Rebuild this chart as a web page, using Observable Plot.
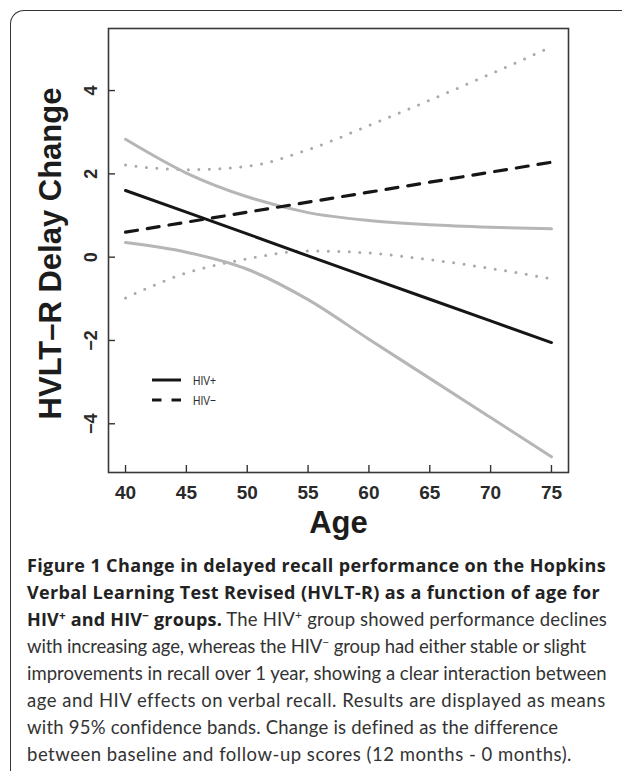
<!DOCTYPE html>
<html><head><meta charset="utf-8">
<script src="https://cdn.jsdelivr.net/npm/d3@7"></script>
<script src="https://cdn.jsdelivr.net/npm/@observablehq/plot@0.6"></script>
<style>
html,body{margin:0;padding:0;background:#fff;width:622px;height:771px;overflow:hidden;}
#wrap{position:relative;width:622px;height:771px;overflow:hidden;}
#border{position:absolute;left:10px;top:10px;width:700px;height:900px;border-top:1.8px solid #333;border-left:1.8px solid #333;border-top-left-radius:14px;box-sizing:border-box;}
#chart{position:absolute;left:0;top:0;}
#legend{position:absolute;left:0;top:0;}
#caption{position:absolute;left:27px;top:552px;font-family:Lato,'Open Sans',sans-serif;font-size:18.5px;line-height:27px;color:#333;white-space:nowrap;}
#caption b{color:#222;font-family:'Open Sans',Lato,sans-serif;font-weight:700;font-size:18px;}
#caption sup{font-size:0.65em;line-height:0;vertical-align:0.55em;}
#caption span{display:inline-block;}
</style></head>
<body><div id="wrap"><div id="border"></div><div id="chart"></div><svg id="legend" width="622" height="560"></svg><div id="caption"></div></div>
<script>
// ---- data ----
const ages = [40, 45, 50, 55, 60, 65, 70, 75];
const hivPosMean  = [1.60, 1.08, 0.56, 0.03, -0.49, -1.01, -1.53, -2.05];
const hivPosUpper = [2.83, 2.02, 1.45, 1.07, 0.88, 0.78, 0.72, 0.68];
const hivPosLower = [0.35, 0.12, -0.29, -1.02, -1.97, -2.91, -3.85, -4.79];
const hivNegMean  = [0.60, 0.84, 1.08, 1.32, 1.56, 1.80, 2.04, 2.28];
const hivNegUpper = [2.21, 2.10, 2.18, 2.58, 3.16, 3.77, 4.40, 5.05];
const hivNegLower = [-0.98, -0.38, -0.04, 0.15, 0.10, -0.06, -0.27, -0.52];
const xTicks = [40, 45, 50, 55, 60, 65, 70, 75];
const yTicks = [-4, -2, 0, 2, 4];
const legendLabels = ["HIV+", "HIV\u2212"];
const xTitle = "Age";
const yTitle = "HVLT\u2013R Delay Change";

const rows = arr => ages.map((a, i) => ({age: a, v: arr[i]}));

const gray = "#b6b6b6", dotGray = "#a9a9a9", ink = "#161616";

const plot = Plot.plot({
  width: 622, height: 550,
  marginLeft: 108, marginRight: 54, marginTop: 28, marginBottom: 78,
  x: {domain: [38.6, 76.4]},
  y: {domain: [-5.17, 5.49]},
  style: {fontFamily: "'Liberation Sans', Arial, sans-serif", color: "#2a2a2a", background: "transparent"},
  marks: [
    Plot.line(rows(hivNegUpper), {x: "age", y: "v", stroke: dotGray, strokeWidth: 3, strokeDasharray: "0,10.5", strokeLinecap: "round", curve: "monotone-x"}),
    Plot.line(rows(hivNegLower), {x: "age", y: "v", stroke: dotGray, strokeWidth: 3, strokeDasharray: "0,10.5", strokeLinecap: "round", curve: "monotone-x"}),
    Plot.line(rows(hivPosUpper), {x: "age", y: "v", stroke: gray, strokeWidth: 3, curve: "monotone-x"}),
    Plot.line(rows(hivPosLower), {x: "age", y: "v", stroke: gray, strokeWidth: 3, curve: "monotone-x"}),
    Plot.line(rows(hivNegMean), {x: "age", y: "v", stroke: ink, strokeWidth: 3.2, strokeDasharray: "12,10"}),
    Plot.line(rows(hivPosMean), {x: "age", y: "v", stroke: ink, strokeWidth: 3}),
    Plot.tickX(xTicks, {x: d => d, insetTop: 437, stroke: "#333", strokeWidth: 1.4}),
    Plot.tickY(yTicks, {y: d => d, insetRight: 453, stroke: "#333", strokeWidth: 1.4}),
    Plot.axisX({ticks: xTicks, tickSize: 0, tickPadding: 13, fontSize: 19, fontWeight: "bold", label: null}),
    Plot.axisY({ticks: yTicks, tickSize: 0, tickPadding: 17, rotate: -90, textAnchor: "middle", fontSize: 18, fontWeight: "bold", label: null}),
    Plot.frame({stroke: "#383838", strokeWidth: 1.6}),
    Plot.text([xTitle], {text: d => d, frameAnchor: "bottom", dy: 38, lineAnchor: "top", fontSize: 31, fontWeight: "bold", fill: "#1c1c1c"}),
    Plot.text([yTitle], {text: d => d, frameAnchor: "left", textAnchor: "middle", dx: -57.6, dy: 3, rotate: -90, fontSize: 31, fontWeight: "bold", fill: "#1c1c1c"})
  ]
});
document.getElementById("chart").appendChild(plot);

// legend (overlay, top-left inside the plot)
const lg = d3.select("#legend");
const legendStyles = [null, "9.5,10"];
legendLabels.forEach((lab, i) => {
  const y = 380 + i * 20;
  lg.append("line").attr("x1", 152).attr("x2", 181).attr("y1", y).attr("y2", y)
    .attr("stroke", ink).attr("stroke-width", 3).attr("stroke-dasharray", legendStyles[i]);
  lg.append("text").attr("x", 193).attr("y", y + 5).attr("font-family", "'Liberation Sans', Arial, sans-serif")
    .attr("font-size", 13).attr("fill", "#2a2a2a").attr("textLength", 23).attr("lengthAdjust", "spacingAndGlyphs").text(lab);
});

// caption
const captionLines = [
  "<b>Figure 1 Change in delayed recall performance on the Hopkins</b>",
  "<b>Verbal Learning Test Revised (HVLT-R) as a function of age for</b>",
  "<b>HIV<sup>+</sup> and HIV<sup>\u2212</sup> groups.</b> The HIV<sup>+</sup> group showed performance declines",
  "with increasing age, whereas the HIV<sup>\u2212</sup> group had either stable or slight",
  "improvements in recall over 1 year, showing a clear interaction between",
  "age and HIV effects on verbal recall. Results are displayed as means",
  "with 95% confidence bands. Change is defined as the difference",
  "between baseline and follow-up scores (12 months - 0 months)."
];
const captionRight = [606, 600, 607, 586, 607, 605, 557, 572];
const cap = document.getElementById("caption");
cap.innerHTML = captionLines.map(l => `<div><span>${l}</span></div>`).join("");
cap.querySelectorAll("span").forEach((sp, i) => {
  const w = sp.getBoundingClientRect().width;
  const n = sp.textContent.length;
  const target = captionRight[i] - 27;
  const ls = Math.max(-0.6, Math.min(1.2, (target - w) / n));
  sp.style.letterSpacing = ls.toFixed(3) + "px";
});
</script>
</body></html>
